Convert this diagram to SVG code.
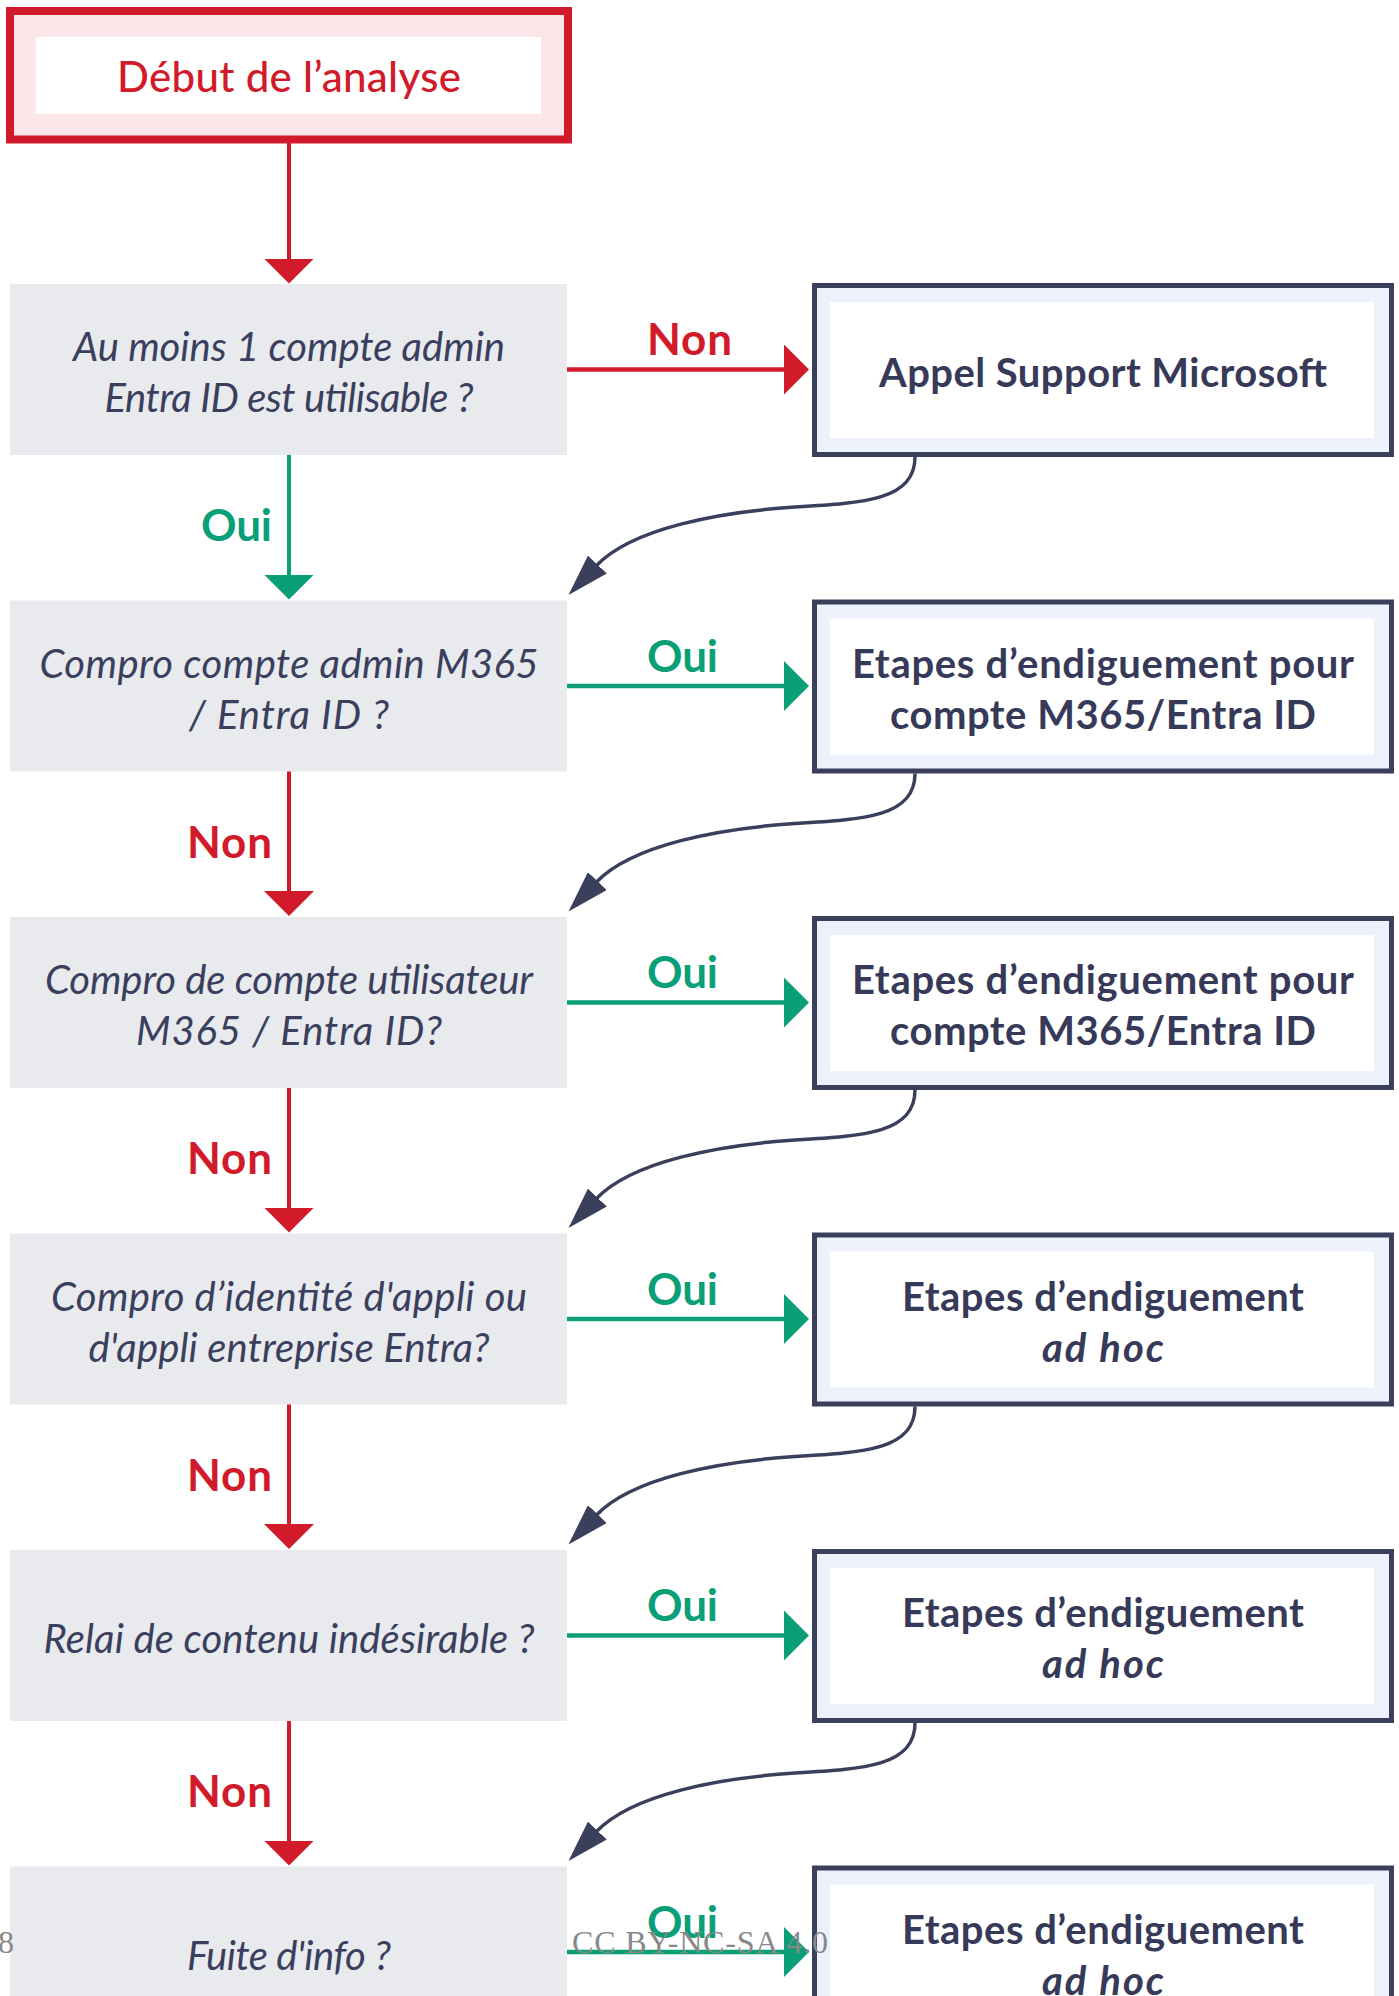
<svg xmlns="http://www.w3.org/2000/svg" width="1399" height="1996" viewBox="0 0 1399 1996">
<defs>
<style>
.dec{fill:#e9eaee}
.out{fill:#edf1fc;stroke:#3a3f5c;stroke-width:5}
.in{fill:#ffffff}
.qt{font-family:Lato,"Noto Sans",sans-serif;font-style:italic;font-size:40px;fill:#3a3f5e;text-anchor:middle}
.ot{font-family:Lato,"Noto Sans",sans-serif;font-weight:bold;font-size:40px;fill:#363a58;text-anchor:middle}
.lbl{font-family:Lato,"Noto Sans",sans-serif;font-weight:bold;font-size:44px}
.red{fill:#d11a2a}
.grn{fill:#0a9f77}
.lr{stroke:#d11a2a;fill:none}
.lg{stroke:#0a9f77;fill:none}
.cv{stroke:#3a3f5c;stroke-width:3.5;fill:none;marker-end:url(#ah-dark)}
.wm{font-family:"Liberation Serif",serif;font-size:32px;fill:#888888}
</style>
<marker id="ah-red" viewBox="0 0 25 50" refX="1" refY="25" markerWidth="25" markerHeight="50" markerUnits="userSpaceOnUse" orient="auto"><path d="M0,0 L25,25 L0,50 Z" fill="#d11a2a"/></marker>
<marker id="ah-green" viewBox="0 0 25 50" refX="1" refY="25" markerWidth="25" markerHeight="50" markerUnits="userSpaceOnUse" orient="auto"><path d="M0,0 L25,25 L0,50 Z" fill="#0a9f77"/></marker>
<marker id="ah-dark" viewBox="0 0 42 26" refX="2" refY="13" markerWidth="42" markerHeight="26" markerUnits="userSpaceOnUse" orient="auto"><path d="M0,0 L42,13 L0,26 Z" fill="#3a3f5c"/></marker>
</defs>
<rect width="1399" height="1996" fill="#ffffff"/>

<g id="start">
<rect x="10" y="11" width="558" height="128.5" fill="#fae6e8" stroke="#d11a2a" stroke-width="8"/>
<rect x="36" y="37" width="505" height="77" fill="#ffffff"/>
<text x="289" y="92" font-family="Lato,'Noto Sans',sans-serif" font-size="42" font-weight="500" fill="#d11a2a" text-anchor="middle" textLength="344">Début de l’analyse</text>
</g>

<g id="q1"><rect class="dec" x="10" y="284" width="557" height="171"/>
<text class="qt" x="289" y="361" textLength="432">Au moins 1 compte admin</text><text class="qt" x="289" y="412" textLength="369">Entra ID est utilisable ?</text></g>
<g id="q2"><rect class="dec" x="10" y="600.5" width="557" height="171"/>
<text class="qt" x="289" y="677.5" textLength="499">Compro compte admin M365</text><text class="qt" x="289" y="728.5" textLength="200">/ Entra ID ?</text></g>
<g id="q3"><rect class="dec" x="10" y="917" width="557" height="171"/>
<text class="qt" x="289" y="994" textLength="488">Compro de compte utilisateur</text><text class="qt" x="289" y="1045" textLength="306">M365 / Entra ID?</text></g>
<g id="q4"><rect class="dec" x="10" y="1233.5" width="557" height="171"/>
<text class="qt" x="289" y="1310.5" textLength="476">Compro d’identité d'appli ou</text><text class="qt" x="289" y="1361.5" textLength="401">d'appli entreprise Entra?</text></g>
<g id="q5"><rect class="dec" x="10" y="1550" width="557" height="171"/>
<text class="qt" x="289" y="1653" textLength="491">Relai de contenu indésirable ?</text></g>
<g id="q6"><rect class="dec" x="10" y="1866.5" width="557" height="171"/>
<text class="qt" x="289" y="1969.5" textLength="204">Fuite d'info ?</text></g>

<g id="r1"><rect class="out" x="814.5" y="285.5" width="577" height="169"/><rect class="in" x="830" y="302" width="544" height="136"/>
<text class="ot" x="1103" y="387" textLength="448">Appel Support Microsoft</text></g>
<g id="r2"><rect class="out" x="814.5" y="602" width="577" height="169"/><rect class="in" x="830" y="618.5" width="544" height="136"/>
<text class="ot" x="1103" y="677.5" textLength="502">Etapes d’endiguement pour</text><text class="ot" x="1103" y="728.5" textLength="426">compte M365/Entra ID</text></g>
<g id="r3"><rect class="out" x="814.5" y="918.5" width="577" height="169"/><rect class="in" x="830" y="935" width="544" height="136"/>
<text class="ot" x="1103" y="994" textLength="502">Etapes d’endiguement pour</text><text class="ot" x="1103" y="1045" textLength="426">compte M365/Entra ID</text></g>
<g id="r4"><rect class="out" x="814.5" y="1235" width="577" height="169"/><rect class="in" x="830" y="1251.5" width="544" height="136"/>
<text class="ot" x="1103" y="1310.5" textLength="402">Etapes d’endiguement</text><text class="ot" x="1103" y="1361.5" font-style="italic" textLength="122">ad hoc</text></g>
<g id="r5"><rect class="out" x="814.5" y="1551.5" width="577" height="169"/><rect class="in" x="830" y="1568" width="544" height="136"/>
<text class="ot" x="1103" y="1627" textLength="402">Etapes d’endiguement</text><text class="ot" x="1103" y="1678" font-style="italic" textLength="122">ad hoc</text></g>
<g id="r6"><rect class="out" x="814.5" y="1868" width="577" height="169"/><rect class="in" x="830" y="1884.5" width="544" height="136"/>
<text class="ot" x="1103" y="1943.5" textLength="402">Etapes d’endiguement</text><text class="ot" x="1103" y="1994.5" font-style="italic" textLength="122">ad hoc</text></g>

<g id="connectors">
<path class="lr" stroke-width="4" d="M289 143 V259.5" marker-end="url(#ah-red)"/>
<path class="lg" stroke-width="4" d="M289 455 V575.5" marker-end="url(#ah-green)"/>
<path class="lr" stroke-width="4" d="M289 771.5 V892" marker-end="url(#ah-red)"/>
<path class="lr" stroke-width="4" d="M289 1088 V1208.5" marker-end="url(#ah-red)"/>
<path class="lr" stroke-width="4" d="M289 1404.5 V1525" marker-end="url(#ah-red)"/>
<path class="lr" stroke-width="4" d="M289 1721 V1841.5" marker-end="url(#ah-red)"/>

<path class="lr" stroke-width="4.5" d="M567 369.5 H785" marker-end="url(#ah-red)"/>
<path class="lg" stroke-width="4.5" d="M567 686 H785" marker-end="url(#ah-green)"/>
<path class="lg" stroke-width="4.5" d="M567 1002.5 H785" marker-end="url(#ah-green)"/>
<path class="lg" stroke-width="4.5" d="M567 1319 H785" marker-end="url(#ah-green)"/>
<path class="lg" stroke-width="4.5" d="M567 1635.5 H785" marker-end="url(#ah-green)"/>
<path class="lg" stroke-width="4.5" d="M567 1952 H785" marker-end="url(#ah-green)"/>

<path class="cv" d="M915 457 C915 500 865 503 795 507 C720 512 632 528 596 566"/>
<path class="cv" d="M915 773.5 C915 816.5 865 819.5 795 823.5 C720 828.5 632 844.5 596 882.5"/>
<path class="cv" d="M915 1090 C915 1133 865 1136 795 1140 C720 1145 632 1161 596 1199"/>
<path class="cv" d="M915 1406.5 C915 1449.5 865 1452.5 795 1456.5 C720 1461.5 632 1477.5 596 1515.5"/>
<path class="cv" d="M915 1723 C915 1766 865 1769 795 1773 C720 1778 632 1794 596 1832"/>

<text class="lbl grn" x="272" y="541" text-anchor="end" textLength="71">Oui</text>
<text class="lbl red" x="272" y="857.5" text-anchor="end" textLength="85">Non</text>
<text class="lbl red" x="272" y="1174" text-anchor="end" textLength="85">Non</text>
<text class="lbl red" x="272" y="1490.5" text-anchor="end" textLength="85">Non</text>
<text class="lbl red" x="272" y="1807" text-anchor="end" textLength="85">Non</text>

<text class="lbl red" x="647" y="355" textLength="85">Non</text>
<text class="lbl grn" x="647" y="671.5" textLength="71">Oui</text>
<text class="lbl grn" x="647" y="988" textLength="71">Oui</text>
<text class="lbl grn" x="647" y="1304.5" textLength="71">Oui</text>
<text class="lbl grn" x="647" y="1621" textLength="71">Oui</text>
<text class="lbl grn" x="647" y="1937.5" textLength="71">Oui</text>
</g>

<text class="wm" x="-2" y="1953">8</text>
<text class="wm" x="572" y="1953" textLength="256">CC BY-NC-SA 4.0</text>
</svg>
